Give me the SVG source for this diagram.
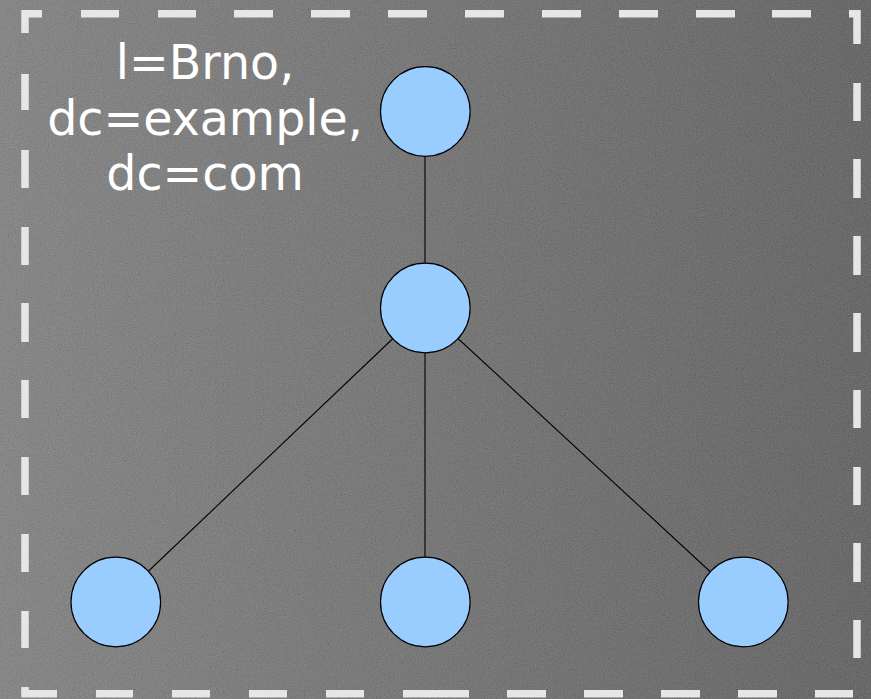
<svg xmlns="http://www.w3.org/2000/svg" width="871" height="699" viewBox="0 0 871 699">
  <defs>
    <linearGradient id="bg" x1="0" y1="0" x2="1" y2="0">
      <stop offset="0" stop-color="#757575"/>
      <stop offset="1" stop-color="#4e4e4e"/>
    </linearGradient>
    <filter id="noise" x="0" y="0" width="871" height="699" filterUnits="userSpaceOnUse">
      <feTurbulence type="fractalNoise" baseFrequency="0.85" numOctaves="2" seed="7"/>
      <feColorMatrix type="matrix" values="0.5 0.5 0.5 0 -0.25  0.5 0.5 0.5 0 -0.25  0.5 0.5 0.5 0 -0.25  0 0 0 0 0.25"/>
    </filter>
    <style>
      .frame { fill: none; stroke: #e6e6e6; stroke-width: 7.5; stroke-linecap: butt; stroke-linejoin: miter; }
      .node { fill: #99ccff; stroke: #000000; stroke-width: 1.2; }
      .edge { stroke: #000000; stroke-width: 1.1; fill: none; }
      .label { font-family: "DejaVu Sans", sans-serif; font-size: 47.5px; fill: #ffffff; text-anchor: middle; }
    </style>
  </defs>
  <rect x="0" y="0" width="871" height="699" fill="url(#bg)"/>
  <rect x="0" y="0" width="871" height="699" fill="#000" filter="url(#noise)"/>

  <path class="frame" d="M25,33 V13.75 H42 M849,13.75 H857 V44 M25,687 V693.75 H57
    M81,13.75 H119 M158,13.75 H196 M234,13.75 H273 M311,13.75 H350 M388,13.75 H427 M465,13.75 H504 M542,13.75 H581 M619,13.75 H658 M696,13.75 H735 M772,13.75 H811
    M857,83 V121 M857,159 V198 M857,236 V275 M857,313 V352 M857,390 V428 M857,467 V505 M857,543 V582 M857,620 V658
    M96,693.75 H133 M172,693.75 H210 M249,693.75 H287 M326,693.75 H364 M403,693.75 H469 M507,693.75 H546 M584,693.75 H623 M661,693.75 H700 M738,693.75 H777 M815,693.75 H853
    M25,74 V110 M25,150 V188 M25,227 V265 M25,303 V342 M25,380 V418 M25,457 V495 M25,534 V572 M25,611 V648"/>

  <g id="connectors">
    <line class="edge" x1="425" y1="111.5" x2="425" y2="308"/>
    <line class="edge" x1="425" y1="308" x2="116" y2="602"/>
    <line class="edge" x1="425" y1="308" x2="425" y2="602"/>
    <line class="edge" x1="425" y1="308" x2="743" y2="602"/>
  </g>

  <g id="label">
    <text class="label" x="205" y="79">l=Brno,</text>
    <text class="label" x="205" y="134.5">dc=example,</text>
    <text class="label" x="205" y="190">dc=com</text>
  </g>

  <g id="node-root"><circle class="node" cx="425.3" cy="111.5" r="44.8"/></g>
  <g id="node-mid"><circle class="node" cx="425.3" cy="308" r="44.8"/></g>
  <g id="node-left"><circle class="node" cx="115.8" cy="602" r="44.8"/></g>
  <g id="node-center"><circle class="node" cx="425.3" cy="602" r="44.8"/></g>
  <g id="node-right"><circle class="node" cx="743.3" cy="602" r="44.8"/></g>
</svg>
